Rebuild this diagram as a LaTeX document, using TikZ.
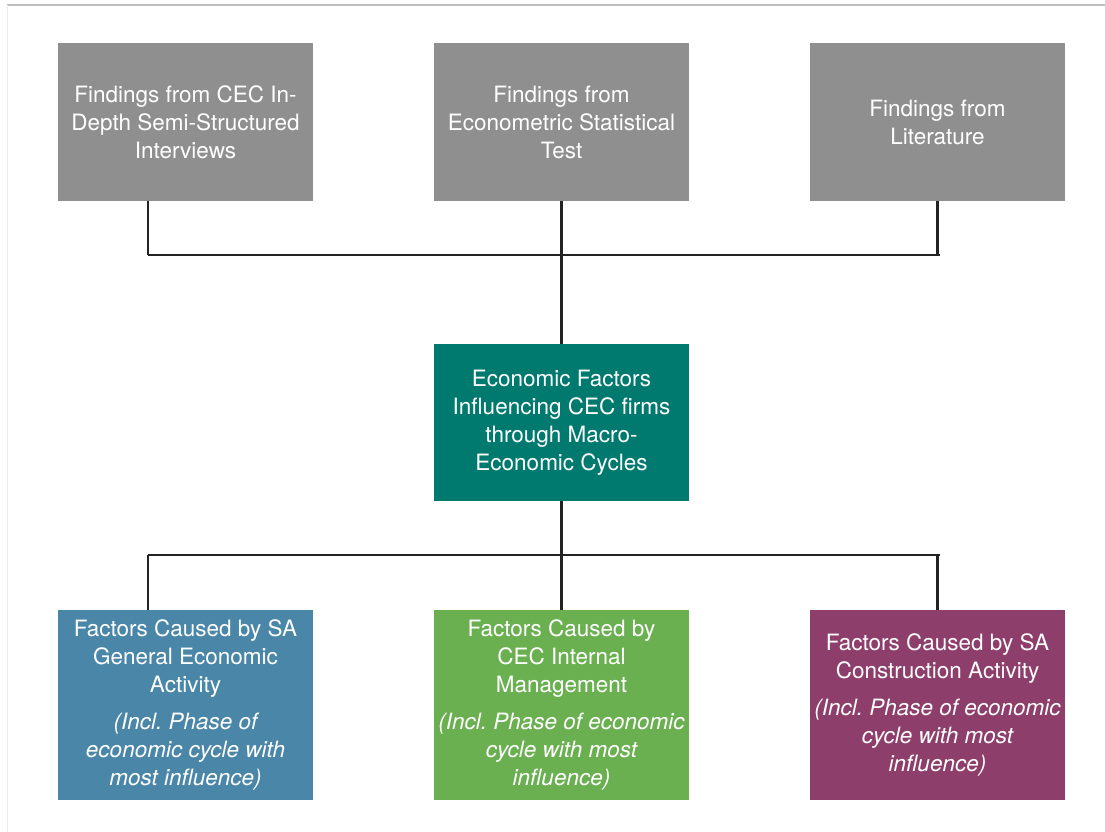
\documentclass[tikz,border=0pt]{standalone}
\usepackage{fontspec}
\setmainfont{TeX Gyre Heros}
\usepackage{tikz}
\usetikzlibrary{positioning, calc}
\definecolor{srcgray}{RGB}{143,143,143}
\definecolor{coreteal}{RGB}{0,121,111}
\definecolor{genblue}{RGB}{74,134,168}
\definecolor{mgtgreen}{RGB}{106,176,80}
\definecolor{conpurple}{RGB}{142,62,107}
\definecolor{linkdark}{RGB}{35,35,35}
\definecolor{rulegray}{RGB}{190,190,190}
\definecolor{edgegray}{RGB}{236,236,236}
\tikzset{
  box/.style={rectangle,text=white,minimum width=255pt,inner sep=0pt,
    align=center,font=\fontsize{22.5}{28}\selectfont\frenchspacing},
  srcbox/.style={box,fill=srcgray,minimum height=158pt},
  corebox/.style={box,fill=coreteal,minimum height=157pt},
  factbox/.style={box,minimum height=190pt},
  link/.style={line width=2.2pt,color=linkdark}
}

\begin{document}
\begin{tikzpicture}[x=1pt,y=-1pt]
  \useasboundingbox (0,0) rectangle (1105,832);
  % page frame
  \draw[line width=1.5pt, color=rulegray] (7,5) -- (1105,5);
  \draw[line width=1pt, color=edgegray] (7,5) -- (7,832);

  % Findings (top row)
  \node[srcbox] (interviews) at (185.5,122) {Findings from CEC In-\\Depth Semi-Structured\\Interviews};
  \node[srcbox] (econtest) at (561.5,122) {Findings from\\Econometric Statistical\\Test};
  \node[srcbox] (literature) at (937.5,122) {Findings from\\Literature};

  % Central box
  \node[corebox] (factors) at (561.5,422.5) {Economic Factors\\Influencing CEC firms\\through Macro-\\Economic Cycles};

  % Factor groups (bottom row)
  \node[factbox,fill=genblue] (general) at (185.5,705) {Factors Caused by SA\\General Economic\\Activity\\[9pt]
    \itshape (Incl. Phase of\\ \itshape economic cycle with\\ \itshape most influence)};
  \node[factbox,fill=mgtgreen] (internal) at (561.5,705) {Factors Caused by\\CEC Internal\\Management\\[9pt]
    \itshape (Incl. Phase of economic\\ \itshape cycle with most\\ \itshape influence)};
  \node[factbox,fill=conpurple] (construction) at (937.5,705) {Factors Caused by SA\\Construction Activity\\[9pt]
    \itshape (Incl. Phase of economic\\ \itshape cycle with most\\ \itshape influence)};

  % Bus lines
  \coordinate (upL) at (148,255);
  \coordinate (upR) at (940,255);
  \coordinate (loL) at (148,555);
  \coordinate (loR) at (940,555);

  \draw[link] (upL) -- (upR);
  \draw[link] (interviews.south -| upL) -- (upL);
  \draw[link] (econtest) -- (factors);
  \draw[link] (literature.south) -- (literature.south |- upR);

  \draw[link] (loL) -- (loR);
  \draw[link] (factors.south) -- (internal.north);
  \draw[link] (loL) -- (general.north -| loL);
  \draw[link] (construction.north |- loR) -- (construction.north);
\end{tikzpicture}
\end{document}
